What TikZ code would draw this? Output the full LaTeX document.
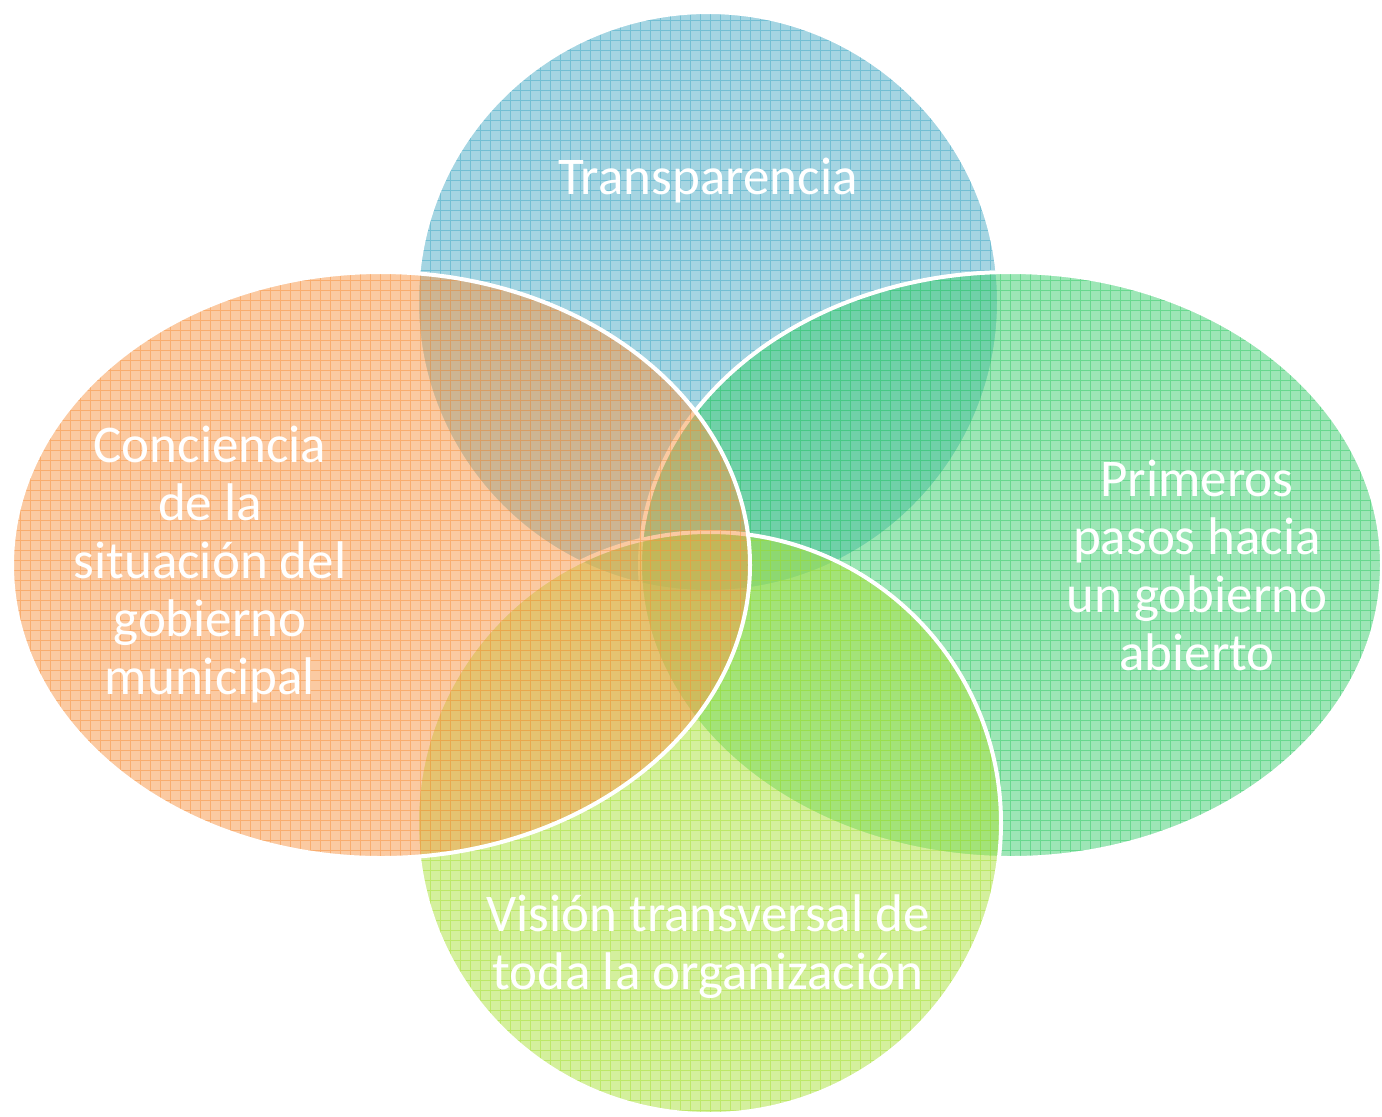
\documentclass[tikz,border=0pt]{standalone}
\usepackage{fontspec}
\setmainfont{Carlito}
\usetikzlibrary{positioning}

\definecolor{vennblue}{RGB}{75,172,198}
\definecolor{vennorange}{RGB}{247,150,70}
\definecolor{venngreen}{RGB}{60,205,110}
\definecolor{vennlime}{RGB}{170,225,60}

\tikzset{
  vennfill/.style={fill=#1, fill opacity=0.5},
  venngrid/.style={draw=#1, line width=0.45pt, draw opacity=0.55},
  vennedge/.style={draw=white, line width=2pt},
  venntext/.style={text=white, align=center, font=\fontsize{26.5}{29}\selectfont}
}

\begin{document}
\begin{tikzpicture}[x=0.5pt, y=-0.5pt]

\useasboundingbox (0,0) rectangle (1382,1116);

% the four sets, back to front
\foreach \col/\cx/\cy/\rx/\ry in {vennblue/708/302/291/290, venngreen/1011/565/371/293,
                                  vennlime/709/823/292/291, vennorange/381/565/369/293}
{
\begin{scope}
\clip (\cx,\cy) ellipse [x radius=\rx, y radius=\ry];
\fill[vennfill=\col] (\cx,\cy) ellipse [x radius=\rx, y radius=\ry];
\draw[venngrid=\col, step=5pt] (0,0) grid (1390,1120);
\end{scope}
\draw[vennedge] (\cx,\cy) ellipse [x radius=\rx, y radius=\ry];
}

\node[venntext] (transparencia) at (708,181) {Transparencia};
\node[venntext] (conciencia) at (210,565) {Conciencia\\de la\\situación del\\gobierno\\municipal};
\node[venntext] (primeros) at (1197,565) {Primeros\\pasos hacia\\un gobierno\\abierto};
\node[venntext] (vision) at (708,947) {Visión transversal de\\toda la organización};

\end{tikzpicture}
\end{document}
